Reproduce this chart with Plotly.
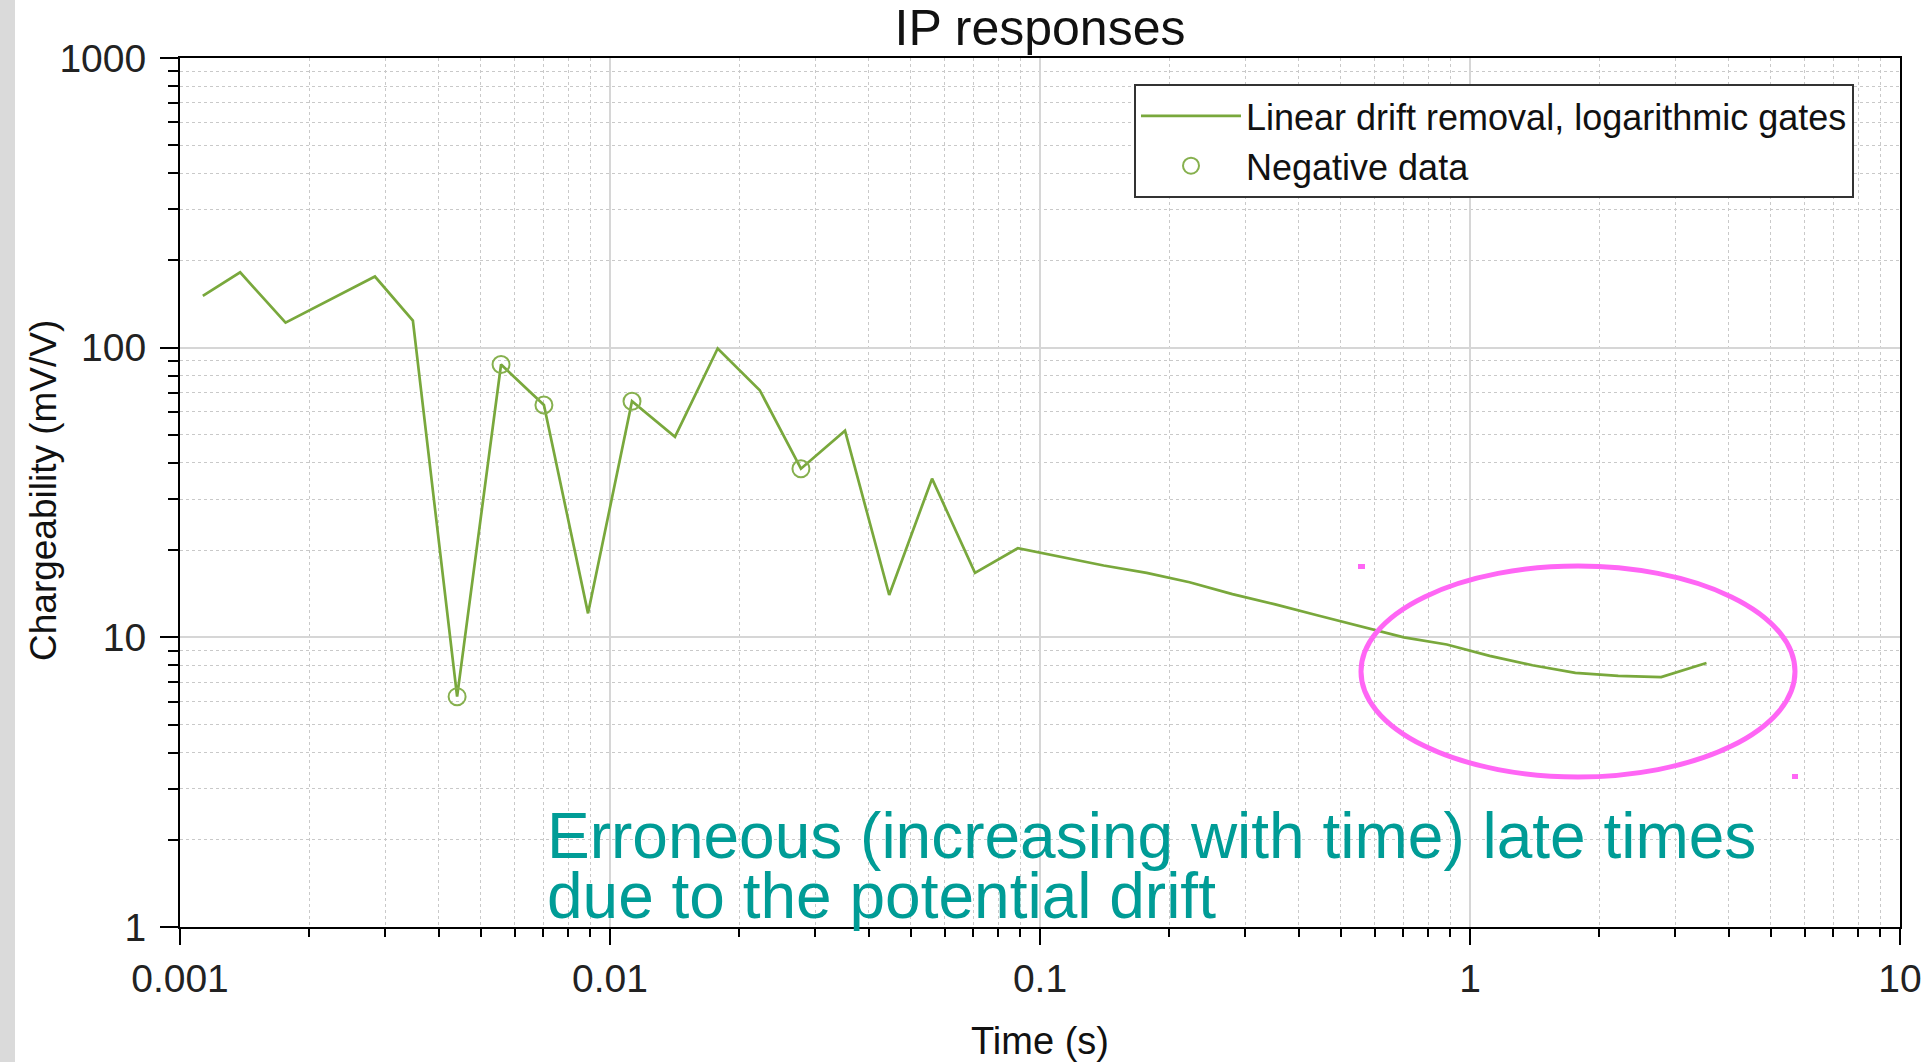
import plotly.graph_objects as go

# ---- data ----
time_s = [0.00113, 0.00138, 0.00176, 0.00284, 0.00348, 0.00441, 0.00558, 0.00702,
          0.00889, 0.01125, 0.01416, 0.0178, 0.0223, 0.0278, 0.0352, 0.0446,
          0.0561, 0.0706, 0.0888, 0.1118, 0.1406, 0.177, 0.2227, 0.2802,
          0.3524, 0.4433, 0.5577, 0.7018, 0.883, 1.111, 1.397, 1.758,
          2.212, 2.783, 3.548]
chargeability = [151, 182, 122, 176, 124, 6.24, 87.5, 63.4,
                 12.1, 65.3, 49.2, 99.4, 71.3, 38.2, 51.7, 14.0,
                 35.3, 16.7, 20.3, 19.0, 17.7, 16.7, 15.5, 14.1,
                 13.0, 11.9, 10.9, 10.0, 9.45, 8.63, 8.01, 7.54,
                 7.36, 7.29, 8.15]
neg_time = [0.00441, 0.00558, 0.00702, 0.01125, 0.0278]
neg_value = [6.24, 87.5, 63.4, 65.3, 38.2]

x_tickvals = [0.001, 0.01, 0.1, 1, 10]
x_ticktext = ["0.001", "0.01", "0.1", "1", "10"]
y_tickvals = [1, 10, 100, 1000]
y_ticktext = ["1", "10", "100", "1000"]
x_minor = [m * 10.0 ** k for k in range(-3, 1) for m in range(2, 10)]
y_minor = [m * 10.0 ** k for k in range(0, 3) for m in range(2, 10)]

title = "IP responses"
x_title = "Time (s)"
y_title = "Chargeability (mV/V)"
series_name = "Linear drift removal, logarithmic gates"
neg_name = "Negative data"
note_1 = "Erroneous (increasing with time) late times"
note_2 = "due to the potential drift"

LINE_GREEN = "#79A83C"
TEAL = "#009C96"
MAGENTA = "#FF66F5"
FONT = "Arial, Liberation Sans, sans-serif"

fig = go.Figure()
fig.add_trace(go.Scatter(x=time_s, y=chargeability, mode="lines", name=series_name,
                         line=dict(color=LINE_GREEN, width=2.7)))
fig.add_trace(go.Scatter(x=neg_time, y=neg_value, mode="markers", name=neg_name,
                         marker=dict(symbol="circle-open", size=17, color="#86B04E",
                                     line=dict(width=2, color="#86B04E"))))

common_minor_grid = dict(showgrid=True, gridcolor="#c9c9c9", griddash="dot", gridwidth=1)

fig.update_xaxes(type="log", range=[-3, 1], tickvals=x_tickvals, ticktext=x_ticktext,
                 ticks="outside", ticklen=16, tickwidth=2, tickcolor="black",
                 showline=True, linecolor="black", linewidth=2, mirror=True,
                 showgrid=True, gridcolor="#d6d6d6", gridwidth=1.5,
                 tickfont=dict(family=FONT, size=39, color="#222"),
                 ticklabelstandoff=0, automargin=False,
                 minor=dict(tickvals=x_minor, ticks="outside", ticklen=8, tickwidth=1.5,
                            tickcolor="black", **common_minor_grid),
                 title=dict(text=x_title, font=dict(family=FONT, size=38, color="#111"),
                            standoff=32),
                 zeroline=False)
fig.update_yaxes(type="log", range=[0, 3], tickvals=y_tickvals, ticktext=y_ticktext,
                 ticks="outside", ticklen=18, tickwidth=2, tickcolor="black",
                 showline=True, linecolor="black", linewidth=2, mirror=True,
                 showgrid=True, gridcolor="#d6d6d6", gridwidth=1.5,
                 tickfont=dict(family=FONT, size=39, color="#222"),
                 ticklabelstandoff=6, automargin=False,
                 minor=dict(tickvals=y_minor, ticks="outside", ticklen=10, tickwidth=2,
                            tickcolor="black", **common_minor_grid),
                 zeroline=False)

L, R, T, B = 180, 22, 58, 135
W, H = 1922, 1062
pw, ph = W - L - R, H - T - B


def px(xp):
    return (xp - L) / pw


def py(yp):
    return (H - B - yp) / ph


shapes = [
    # light grey strip on the far left of the picture
    dict(type="rect", xref="paper", yref="paper", x0=px(0), x1=px(15), y0=py(H), y1=py(0),
         fillcolor="#dadada", line=dict(width=0), layer="below"),
    # magenta highlight ellipse
    dict(type="circle", xref="paper", yref="paper", x0=px(1361), x1=px(1795), y0=py(777), y1=py(566),
         line=dict(color=MAGENTA, width=5)),
    dict(type="rect", xref="paper", yref="paper", x0=px(1358), x1=px(1365), y0=py(569), y1=py(564),
         fillcolor=MAGENTA, line=dict(width=0)),
    dict(type="rect", xref="paper", yref="paper", x0=px(1792), x1=px(1798), y0=py(779), y1=py(774),
         fillcolor=MAGENTA, line=dict(width=0)),
]

annotations = [
    dict(text=y_title, xref="paper", yref="paper", x=px(43), y=py(491), xanchor="center", yanchor="middle",
         textangle=-90, showarrow=False, font=dict(family=FONT, size=37, color="#111")),
    dict(text=note_1, xref="paper", yref="paper", x=px(545), y=py(836), xanchor="left", yanchor="middle",
         showarrow=False, font=dict(family=FONT, size=64, color=TEAL)),
    dict(text=note_2, xref="paper", yref="paper", x=px(545), y=py(896), xanchor="left", yanchor="middle",
         showarrow=False, font=dict(family=FONT, size=64, color=TEAL)),
]

fig.update_layout(
    width=W, height=H,
    margin=dict(l=L, r=R, t=T, b=B, autoexpand=False),
    paper_bgcolor="white", plot_bgcolor="white",
    title=dict(text=title, x=1040 / W, xanchor="center", y=1 - 27 / H, yanchor="middle",
               font=dict(family=FONT, size=50, color="#111")),
    legend=dict(x=px(1134), xanchor="left", y=py(84), yanchor="top",
                bgcolor="white", bordercolor="#333", borderwidth=2,
                font=dict(family=FONT, size=36, color="#111"), itemwidth=100),
    shapes=shapes, annotations=annotations,
    showlegend=True,
)

fig.write_html("out.html")
